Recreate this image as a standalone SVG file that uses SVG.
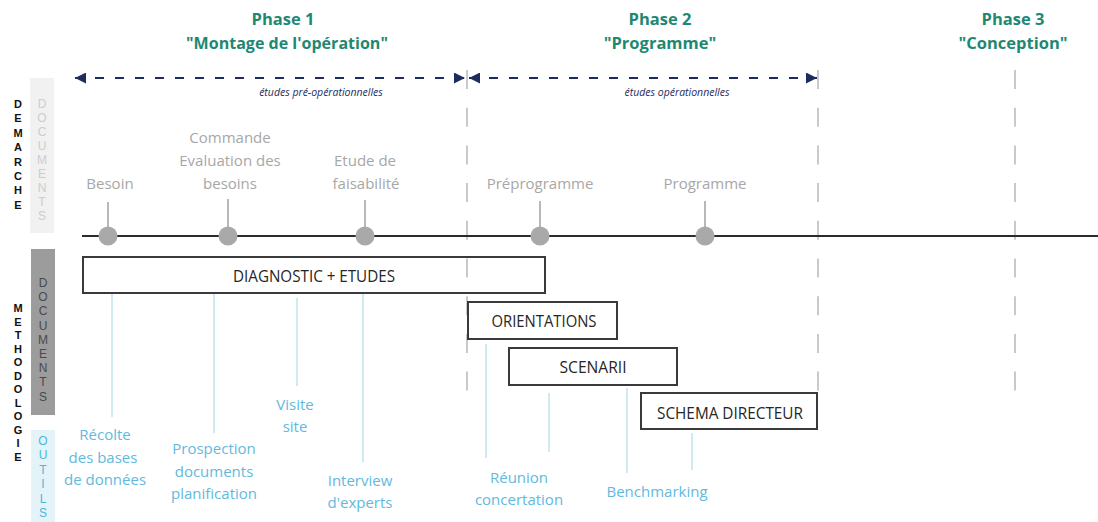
<svg xmlns="http://www.w3.org/2000/svg" width="1098" height="522" viewBox="0 0 1098 522">
  <defs>
    <marker id="tip" viewBox="0 0 10 10" refX="10" refY="5" markerWidth="11" markerHeight="11" markerUnits="userSpaceOnUse" orient="auto-start-reverse">
      <path d="M0,0 L10,5 L0,10 Z" fill="#1e2b5e"/>
    </marker>
  </defs>
  <style>
    text { font-family: "Open Sans", "Liberation Sans", sans-serif; }
    .phase { font-size: 16.5px; font-weight: bold; fill: #1e8872; text-anchor: middle; }
    .span { stroke: #1e2b5e; stroke-width: 2; stroke-dasharray: 9 11; fill: none; }
    .spanlbl { font-size: 10.5px; font-style: italic; fill: #1e2b5e; text-anchor: middle; }
    .sep { stroke: #c9c9c9; stroke-width: 2; stroke-dasharray: 19 18.7; fill: none; }
    .axis { stroke: #2b2b2b; stroke-width: 2; }
    .stem { stroke: #b8b8b8; stroke-width: 2; }
    .dot { fill: #a9a9a9; }
    .mlbl { font-size: 15px; fill: #a7a7a7; text-anchor: middle; }
    .box { fill: none; stroke: #3a3a3a; stroke-width: 2; }
    .blbl { font-size: 16px; fill: #262626; text-anchor: middle; }
    .tool { stroke: #bfe3ec; stroke-width: 1.5; }
    .tlbl { font-size: 15px; fill: #62b9dd; text-anchor: middle; }
    .side { font-family: "Liberation Sans", sans-serif; font-size: 11px; font-weight: bold; fill: #111; text-anchor: middle; }
    .vdoc { font-family: "Liberation Sans", sans-serif; font-size: 12px; text-anchor: middle; }
  </style>

  <!-- left-hand band labels -->
  <g id="band-demarche">
    <rect x="30" y="78" width="24" height="155" fill="#f1f1f1"/>
    <text class="side"><tspan x="18" y="108">D</tspan><tspan x="18" dy="14.4">E</tspan><tspan x="18" dy="14.4">M</tspan><tspan x="18" dy="14.4">A</tspan><tspan x="18" dy="14.4">R</tspan><tspan x="18" dy="14.4">C</tspan><tspan x="18" dy="14.4">H</tspan><tspan x="18" dy="14.4">E</tspan></text>
    <text class="vdoc" fill="#cdcdcd"><tspan x="42" y="108">D</tspan><tspan x="42" dy="14">O</tspan><tspan x="42" dy="14">C</tspan><tspan x="42" dy="14">U</tspan><tspan x="42" dy="14">M</tspan><tspan x="42" dy="14">E</tspan><tspan x="42" dy="14">N</tspan><tspan x="42" dy="14">T</tspan><tspan x="42" dy="14">S</tspan></text>
  </g>
  <g id="band-methodologie">
    <rect x="31" y="249" width="24" height="166" fill="#9c9c9c"/>
    <text class="vdoc" fill="#4a4a4a"><tspan x="43" y="287">D</tspan><tspan x="43" dy="14.2">O</tspan><tspan x="43" dy="14.2">C</tspan><tspan x="43" dy="14.2">U</tspan><tspan x="43" dy="14.2">M</tspan><tspan x="43" dy="14.2">E</tspan><tspan x="43" dy="14.2">N</tspan><tspan x="43" dy="14.2">T</tspan><tspan x="43" dy="14.2">S</tspan></text>
    <rect x="31" y="430" width="24" height="92" fill="#e4f3f7"/>
    <text class="vdoc" fill="#4cb7e0"><tspan x="43" y="445">O</tspan><tspan x="43" dy="14.4">U</tspan><tspan x="43" dy="14.4">T</tspan><tspan x="43" dy="14.4">I</tspan><tspan x="43" dy="14.4">L</tspan><tspan x="43" dy="14.4">S</tspan></text>
    <text class="side"><tspan x="18" y="312">M</tspan><tspan x="18" dy="13.5">E</tspan><tspan x="18" dy="13.5">T</tspan><tspan x="18" dy="13.5">H</tspan><tspan x="18" dy="13.5">O</tspan><tspan x="18" dy="13.5">D</tspan><tspan x="18" dy="13.5">O</tspan><tspan x="18" dy="13.5">L</tspan><tspan x="18" dy="13.5">O</tspan><tspan x="18" dy="13.5">G</tspan><tspan x="18" dy="13.5">I</tspan><tspan x="18" dy="13.5">E</tspan></text>
  </g>

  <!-- phase headings -->
  <g id="phase-1">
    <text class="phase" x="283" y="25">Phase 1</text>
    <text class="phase" x="287" y="49" textLength="202" lengthAdjust="spacingAndGlyphs">"Montage de l'opération"</text>
  </g>
  <g id="phase-2">
    <text class="phase" x="660" y="25">Phase 2</text>
    <text class="phase" x="660" y="49">"Programme"</text>
  </g>
  <g id="phase-3">
    <text class="phase" x="1013" y="25">Phase 3</text>
    <text class="phase" x="1013" y="49">"Conception"</text>
  </g>

  <!-- phase separators, timeline, spans, stems -->
  <g id="connectors">
    <line class="sep" x1="467" y1="70" x2="467" y2="392"/>
    <line class="sep" x1="818" y1="70" x2="818" y2="392"/>
    <line class="sep" x1="1015" y1="70" x2="1015" y2="392"/>

    <line class="span" x1="75" y1="78" x2="465" y2="78" marker-start="url(#tip)" marker-end="url(#tip)"/>
    <line class="span" x1="469" y1="78" x2="817" y2="78" marker-start="url(#tip)" marker-end="url(#tip)"/>

    <line class="axis" x1="82" y1="236" x2="1098" y2="236"/>

    <line class="stem" x1="108" y1="202" x2="108" y2="236"/>
    <line class="stem" x1="228" y1="199" x2="228" y2="236"/>
    <line class="stem" x1="365" y1="200" x2="365" y2="236"/>
    <line class="stem" x1="540" y1="201" x2="540" y2="236"/>
    <line class="stem" x1="705" y1="201" x2="705" y2="236"/>

    <line class="tool" x1="112" y1="293" x2="112" y2="417"/>
    <line class="tool" x1="214" y1="293" x2="214" y2="433"/>
    <line class="tool" x1="297" y1="298" x2="297" y2="386"/>
    <line class="tool" x1="363" y1="293" x2="363" y2="462"/>
    <line class="tool" x1="486" y1="344" x2="486" y2="458"/>
    <line class="tool" x1="549" y1="393" x2="549" y2="452"/>
    <line class="tool" x1="627" y1="388" x2="627" y2="473"/>
    <line class="tool" x1="692" y1="433" x2="692" y2="470"/>
  </g>

  <g id="span-labels">
    <text class="spanlbl" x="321" y="96">études pré-opérationnelles</text>
    <text class="spanlbl" x="677" y="96">études opérationnelles</text>
  </g>

  <!-- milestones on the timeline -->
  <g id="m-besoin">
    <circle class="dot" cx="108" cy="236" r="9.5"/>
    <text class="mlbl" x="110" y="189">Besoin</text>
  </g>
  <g id="m-commande">
    <circle class="dot" cx="228" cy="236" r="9.5"/>
    <text class="mlbl" x="230" y="143">Commande</text>
    <text class="mlbl" x="230" y="166">Evaluation des</text>
    <text class="mlbl" x="230" y="189">besoins</text>
  </g>
  <g id="m-faisabilite">
    <circle class="dot" cx="365" cy="236" r="9.5"/>
    <text class="mlbl" x="365" y="166">Etude de</text>
    <text class="mlbl" x="366" y="189">faisabilité</text>
  </g>
  <g id="m-preprogramme">
    <circle class="dot" cx="540" cy="236" r="9.5"/>
    <text class="mlbl" x="540" y="189">Préprogramme</text>
  </g>
  <g id="m-programme">
    <circle class="dot" cx="705" cy="236" r="9.5"/>
    <text class="mlbl" x="705" y="189">Programme</text>
  </g>

  <!-- deliverables -->
  <g id="b-diagnostic">
    <rect class="box" x="83" y="257" width="462" height="36"/>
    <text class="blbl" x="314" y="282" textLength="162" lengthAdjust="spacingAndGlyphs">DIAGNOSTIC + ETUDES</text>
  </g>
  <g id="b-orientations">
    <rect class="box" x="468" y="302" width="149" height="37"/>
    <text class="blbl" x="544" y="327" textLength="105" lengthAdjust="spacingAndGlyphs">ORIENTATIONS</text>
  </g>
  <g id="b-scenarii">
    <rect class="box" x="509" y="348" width="168" height="37"/>
    <text class="blbl" x="593" y="373" textLength="67" lengthAdjust="spacingAndGlyphs">SCENARII</text>
  </g>
  <g id="b-schema">
    <rect class="box" x="641" y="393" width="176" height="36"/>
    <text class="blbl" x="730" y="419" textLength="146" lengthAdjust="spacingAndGlyphs">SCHEMA DIRECTEUR</text>
  </g>

  <!-- tools -->
  <g id="t-recolte">
    <text class="tlbl" x="105" y="440">Récolte</text>
    <text class="tlbl" x="103" y="463">des bases</text>
    <text class="tlbl" x="105" y="485">de données</text>
  </g>
  <g id="t-prospection">
    <text class="tlbl" x="214" y="454">Prospection</text>
    <text class="tlbl" x="214" y="477">documents</text>
    <text class="tlbl" x="214" y="499">planification</text>
  </g>
  <g id="t-visite">
    <text class="tlbl" x="295" y="410">Visite</text>
    <text class="tlbl" x="295" y="432">site</text>
  </g>
  <g id="t-interview">
    <text class="tlbl" x="360" y="486">Interview</text>
    <text class="tlbl" x="360" y="508">d'experts</text>
  </g>
  <g id="t-reunion">
    <text class="tlbl" x="519" y="483">Réunion</text>
    <text class="tlbl" x="519" y="505">concertation</text>
  </g>
  <g id="t-benchmarking">
    <text class="tlbl" x="657" y="497">Benchmarking</text>
  </g>
</svg>
